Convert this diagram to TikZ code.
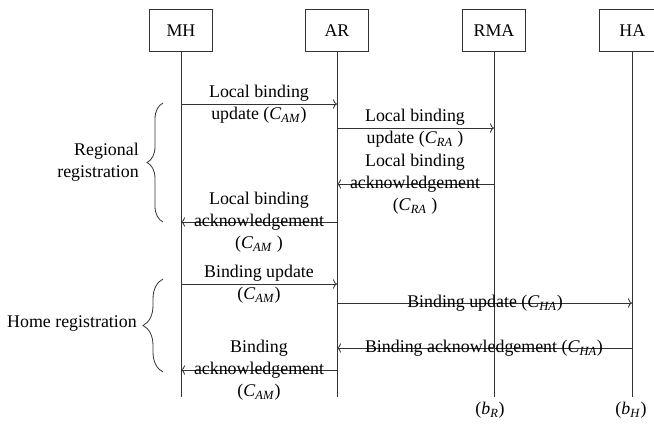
\documentclass[tikz,border=0pt]{standalone}
\usepackage{fontspec}
\setmainfont{Liberation Serif}
\usetikzlibrary{decorations.pathreplacing,arrows.meta}
\newcommand{\cst}[2]{\textit{#1}\textsubscript{\textit{#2}}}

\begin{document}
\begin{tikzpicture}[x=0.75pt, y=-0.75pt,
    font=\fontsize{13.4}{16.5}\selectfont,
    entity/.style={draw=black!80, line width=0.6pt, minimum width=47pt, minimum height=32pt, inner sep=0pt},
    life/.style={draw=black!80, line width=0.6pt},
    msg/.style={-{To[length=3pt,width=7pt]}, draw=black!80, line width=0.6pt},
    lbl/.style={align=center, inner sep=0pt},
    phase/.style={decorate, decoration={brace, amplitude=#1}, draw=black!80, line width=0.6pt}]

    \useasboundingbox (0,0) rectangle (654,425);

    % Entities
    \node[entity] (MH) at (181,30.5) {MH};
    \node[entity] (AR) at (337,30.5) {AR};
    \node[entity] (RMA) at (494,30.5) {RMA};
    \node[entity, minimum width=56pt] (HA) at (637,30.5) {\hspace*{-7pt}HA};

    % Lifelines
    \coordinate (MHend) at (181,397);
    \coordinate (ARend) at (337,397);
    \coordinate (RMAend) at (494,397);
    \coordinate (HAend) at (632,397);
    \draw[life] (MH) -- (MHend);
    \draw[life] (AR) -- (ARend);
    \draw[life] (RMA) -- (RMAend);
    \draw[life] (HA.south -| HAend) -- (HAend);

    % Regional registration
    \draw[msg] (MH |- 0,104) -- (AR |- 0,104);
    \node[lbl] (lbu1) at (259,104) {Local binding\\update (\cst{C}{AM})};
    \draw[msg] (AR |- 0,128) -- (RMA |- 0,128);
    \node[lbl] (lbu2) at (415,128) {Local binding\\update (\cst{C}{RA} )};
    \draw[msg] (RMA |- 0,184) -- (AR |- 0,184);
    \node[lbl] (lba2) at (415,184) {Local binding\\acknowledgement\\(\cst{C}{RA} )};
    \draw[msg] (AR |- 0,222) -- (MH |- 0,222);
    \node[lbl] (lba1) at (259,222) {Local binding\\acknowledgement\\(\cst{C}{AM} )};

    % Home registration
    \draw[msg] (MH |- 0,284) -- (AR |- 0,284);
    \node[lbl] (bu1) at (259,284) {Binding update\\(\cst{C}{AM})};
    \draw[msg] (AR |- 0,303) -- (HAend |- 0,303);
    \node[lbl] (bu2) at (485,303) {Binding update (\cst{C}{HA})};
    \draw[msg] (HAend |- 0,348) -- (AR |- 0,348);
    \node[lbl] (ba2) at (484,348) {Binding acknowledgement (\cst{C}{HA})};
    \draw[msg] (AR |- 0,370) -- (MH |- 0,370);
    \node[lbl] (ba1) at (259,370) {Binding\\acknowledgement\\(\cst{C}{AM})};

    % Braces
    \draw[phase=12pt] (163,222) -- (163,103);
    \node[lbl, align=right, anchor=east] (reg) at (139,162) {Regional\\registration};
    \draw[phase=15pt] (163,372) -- (163,279);
    \node[lbl, anchor=east] (home) at (137,324) {Home registration};

    % Costs
    \node (bR) at (490,410) {(\cst{b}{R})};
    \node (bH) at (631,410) {(\cst{b}{H})};

\end{tikzpicture}
\end{document}
